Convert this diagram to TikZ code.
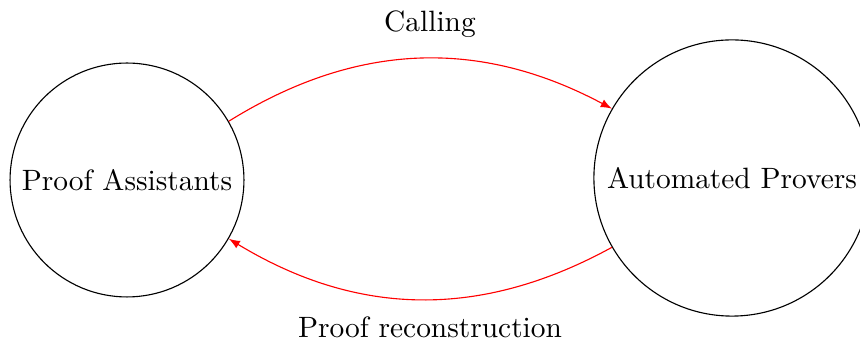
\documentclass[tikz,border=0pt]{standalone}
\usepackage{tikz}
\usetikzlibrary{arrows}

\begin{document}
\begin{tikzpicture}[x=0.357pt, y=-0.357pt, >=latex,
  every node/.style={font=\fontsize{10.5}{12}\selectfont},
  system/.style={draw, circle, inner sep=0pt},
  link/.style={->, red}]
  \useasboundingbox (0,0) rectangle (860,343);
  \node[system, minimum size=83.5pt] at (127,180) (pa) {Proof Assistants};
  \node[system, minimum size=98.6pt] at (732,178) (ap) {Automated Provers};

  \node at (430,24) (call) {Calling};
  \node at (430,327) (rec) {Proof reconstruction};

  \draw[link] (pa.30) to[bend left=30] (ap.150);
  \draw[link] (ap.210) to[bend left=30] (pa.330);
\end{tikzpicture}
\end{document}
